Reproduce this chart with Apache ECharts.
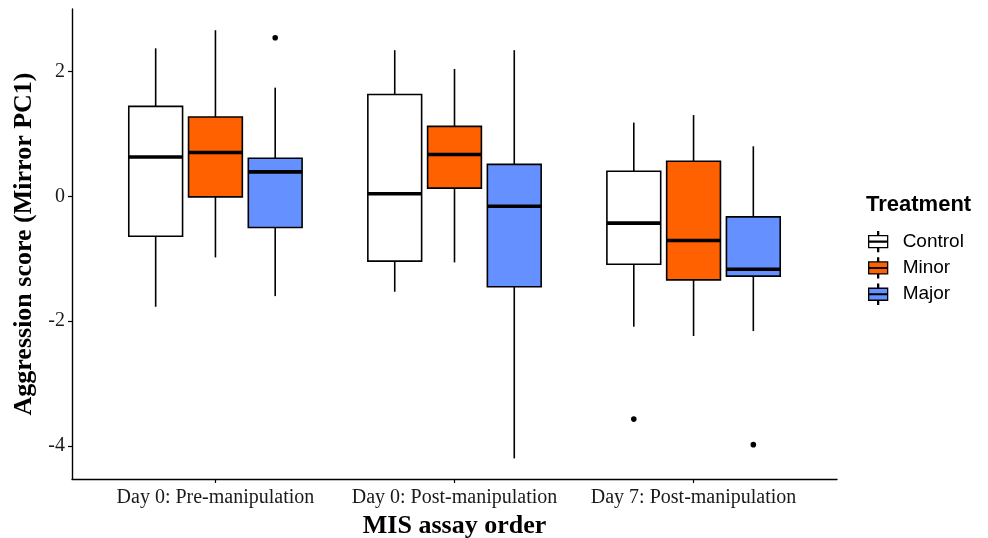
<!DOCTYPE html>
<html>
<head>
<meta charset="utf-8">
<script src="https://cdn.jsdelivr.net/npm/echarts@6/dist/echarts.min.js"></script>
<style>html,body{margin:0;padding:0;background:#fff}#c{width:988px;height:538px}</style>
</head>
<body>
<div id="c"></div>
<script>
// ---- data ----
const categories = ['Day 0: Pre-manipulation', 'Day 0: Post-manipulation', 'Day 7: Post-manipulation'];
const treatments = ['Control', 'Minor', 'Major'];
// [lower whisker, Q1, median, Q3, upper whisker] per category
const controlBox = [[-1.77, -0.64, 0.63, 1.44, 2.37], [-1.53, -1.04, 0.04, 1.63, 2.34], [-2.09, -1.09, -0.43, 0.40, 1.18]];
const minorBox   = [[-0.98, -0.01, 0.70, 1.27, 2.66], [-1.06, 0.13, 0.67, 1.12, 2.04], [-2.24, -1.34, -0.71, 0.56, 1.30]];
const majorBox   = [[-1.60, -0.50, 0.39, 0.61, 1.74], [-4.20, -1.45, -0.16, 0.51, 2.34], [-2.16, -1.28, -1.17, -0.33, 0.80]];
// outliers: [category index, value]
const controlOutliers = [[2, -3.57]];
const minorOutliers   = [];
const majorOutliers   = [[0, 2.54], [2, -3.98]];
const yTicks = [-4, -2, 0, 2];

// ---- styles ----
const fills = ['#FFFFFF', '#FF6100', '#6491FF'];
const dodge = [-0.25, 0, 0.25];
const boxW = 0.225;

function boxData(arr) { return arr.map((b, i) => [i + 1].concat(b)); }
function outData(arr) { return arr.map(o => [o[0] + 1, o[1]]); }

function makeBoxRender(k) {
  return function (params, api) {
    const x = api.value(0) + dodge[k];
    const cx = api.coord([x, 0])[0];
    const hw = api.size([boxW, 0])[0] / 2;
    const yl = api.coord([x, api.value(1)])[1];
    const q1 = api.coord([x, api.value(2)])[1];
    const md = api.coord([x, api.value(3)])[1];
    const q3 = api.coord([x, api.value(4)])[1];
    const yh = api.coord([x, api.value(5)])[1];
    const ls = { stroke: '#000', lineWidth: 1.6 };
    return {
      type: 'group',
      children: [
        { type: 'line', shape: { x1: cx, y1: q3, x2: cx, y2: yh }, style: ls },
        { type: 'line', shape: { x1: cx, y1: q1, x2: cx, y2: yl }, style: ls },
        { type: 'rect', shape: { x: cx - hw, y: q3, width: hw * 2, height: q1 - q3 },
          style: { fill: fills[k], stroke: '#000', lineWidth: 1.6 } },
        { type: 'line', shape: { x1: cx - hw, y1: md, x2: cx + hw, y2: md },
          style: { stroke: '#000', lineWidth: 3.6 } }
      ]
    };
  };
}
function makeOutRender(k) {
  return function (params, api) {
    const p = api.coord([api.value(0) + dodge[k], api.value(1)]);
    return { type: 'circle', shape: { cx: p[0], cy: p[1], r: 2.8 }, style: { fill: '#000' } };
  };
}

const boxes = [controlBox, minorBox, majorBox];
const outs = [controlOutliers, minorOutliers, majorOutliers];
const series = [];
treatments.forEach((t, k) => {
  series.push({
    name: t, type: 'custom', renderItem: makeBoxRender(k),
    itemStyle: { color: fills[k], borderColor: '#000', borderWidth: 1.4 },
    encode: { x: 0, y: [1, 2, 3, 4, 5] },
    data: boxData(boxes[k]), silent: true, z: 2
  });
});
treatments.forEach((t, k) => {
  series.push({
    name: t + ' outliers', type: 'custom', renderItem: makeOutRender(k),
    encode: { x: 0, y: 1 }, data: outData(outs[k]), silent: true, z: 3
  });
});

const legendIcon = 'path://M9,0h1v4h-1z M0,4h19v12h-19z M0,9.6h19v0.8h-19z M9,16h1v4h-1z';

const chart = echarts.init(document.getElementById('c'), null, { renderer: 'canvas' });
chart.setOption({
  animation: false,
  backgroundColor: '#fff',
  grid: { left: 72, right: 151, top: 9, bottom: 59, containLabel: false, outerBoundsMode: 'none' },
  title: {
    text: 'Treatment', left: 861, top: 189,
    textStyle: { fontFamily: 'Liberation Sans', fontWeight: 'bold', fontSize: 22, color: '#000' }
  },
  legend: {
    data: treatments, orient: 'vertical', left: 863, top: 226,
    itemWidth: 19, itemHeight: 20, itemGap: 5, icon: legendIcon,
    itemStyle: { borderColor: '#000', borderWidth: 1.3 },
    textStyle: { fontFamily: 'Liberation Sans', fontSize: 19, color: '#000', padding: [0, 0, 0, 10] },
    selectedMode: false
  },
  xAxis: {
    type: 'value', min: 0.4, max: 3.6,
    name: 'MIS assay order', nameLocation: 'middle', nameGap: 34,
    nameTextStyle: { fontFamily: 'Liberation Serif', fontWeight: 'bold', fontSize: 26, color: '#000' },
    splitLine: { show: false },
    axisLine: { onZero: false, lineStyle: { color: '#000', width: 1.4 } },
    axisTick: { show: true, customValues: [1, 2, 3], length: 4, lineStyle: { color: '#000', width: 1.2 } },
    axisLabel: {
      customValues: [1, 2, 3], margin: 9,
      formatter: v => categories[Math.round(v) - 1] || '',
      fontFamily: 'Liberation Serif', fontSize: 20, color: '#1a1a1a'
    }
  },
  yAxis: {
    type: 'value', min: -4.53, max: 3.0,
    name: 'Aggression score (Mirror PC1)', nameLocation: 'middle', nameGap: 33, nameRotate: 90,
    nameTextStyle: { fontFamily: 'Liberation Serif', fontWeight: 'bold', fontSize: 26, color: '#000' },
    splitLine: { show: false },
    axisLine: { show: true, onZero: false, lineStyle: { color: '#000', width: 1.4 } },
    axisTick: { show: true, customValues: yTicks, length: 4, lineStyle: { color: '#000', width: 1.2 } },
    axisLabel: {
      customValues: yTicks, margin: 7,
      fontFamily: 'Liberation Serif', fontSize: 20, color: '#1a1a1a'
    }
  },
  series: series
});
</script>
</body>
</html>
